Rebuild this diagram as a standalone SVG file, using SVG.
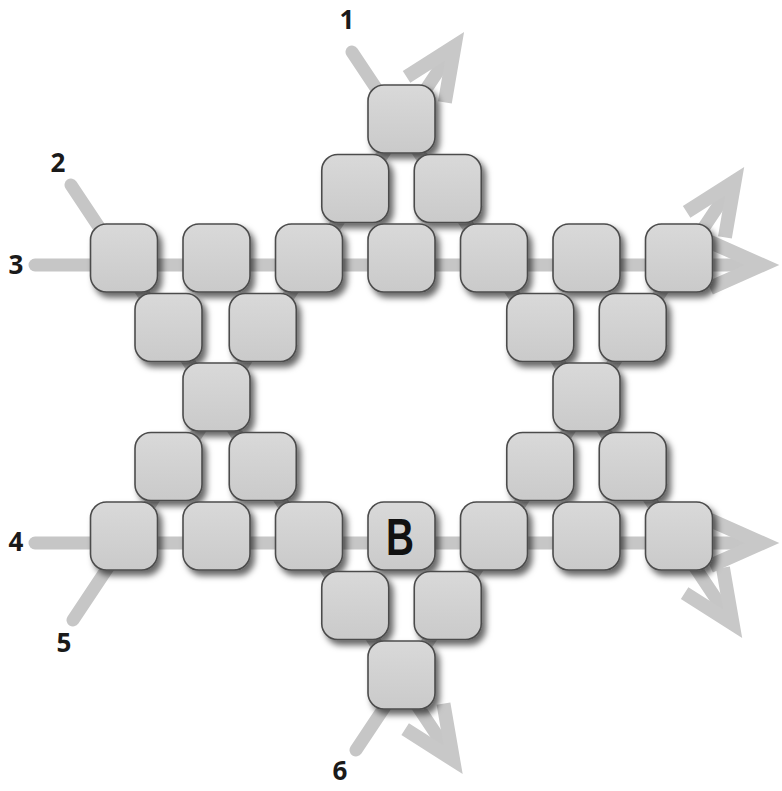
<svg xmlns="http://www.w3.org/2000/svg" width="782" height="791" viewBox="0 0 782 791">
<style>
.ln{fill:none;stroke:#c6c6c6;stroke-width:13;stroke-linecap:round;marker-end:url(#ah)}
.sq{fill:url(#g);stroke:#4c4c4c;stroke-width:1.6;filter:url(#sh)}
.lb{font-family:"Open Sans","Liberation Sans",sans-serif;font-weight:700;font-size:26px;fill:#1a1a1a;text-anchor:middle}
.big{font-family:"Liberation Sans",sans-serif;font-weight:700;font-size:52px;fill:#111;text-anchor:middle}
</style>
<defs>
<linearGradient id="g" x1="0" y1="0" x2="0" y2="1">
<stop offset="0" stop-color="#d9d9d9"/>
<stop offset="1" stop-color="#cacaca"/>
</linearGradient>
<filter id="sh" x="-30%" y="-30%" width="170%" height="170%">
<feDropShadow dx="4" dy="5" stdDeviation="3" flood-color="#000" flood-opacity="0.6"/>
</filter>
<marker id="ah" markerUnits="userSpaceOnUse" orient="auto" refX="0" refY="0" markerWidth="100" markerHeight="100" overflow="visible">
<path d="M-52,-23 L0,0 L-52,23" fill="none" stroke="#c8c8c8" stroke-width="14" stroke-linejoin="miter"/>
</marker>
</defs>
<rect width="782" height="791" fill="#fff"/>
<g id="connectors">
<path id="c1" class="ln" d="M352,52 L732.6,623.7"/>
<path id="c2" class="ln" d="M71,185 L453.1,759.7"/>
<path id="c3" class="ln" d="M35,265 L762,265"/>
<path id="c4" class="ln" d="M35,543 L762,543"/>
<path id="c5" class="ln" d="M73,620 L454.5,46.3"/>
<path id="c6" class="ln" d="M356,750 L734.6,181.3"/>
</g>
<g id="labels">
<text class="lb" x="347" y="29">1</text>
<text class="lb" x="58" y="172">2</text>
<text class="lb" x="16" y="274">3</text>
<text class="lb" x="16" y="551">4</text>
<text class="lb" x="64" y="652">5</text>
<text class="lb" x="340" y="780">6</text>
</g>
<g id="nodes">
<g id="r0a"><rect class="sq" x="368" y="85" width="67" height="68" rx="16"/></g>
<g id="r1a"><rect class="sq" x="321.75" y="154.5" width="67" height="68" rx="16"/></g>
<g id="r1b"><rect class="sq" x="414.25" y="154.5" width="67" height="68" rx="16"/></g>
<g id="r2a"><rect class="sq" x="90.5" y="224" width="67" height="68" rx="16"/></g>
<g id="r2b"><rect class="sq" x="183" y="224" width="67" height="68" rx="16"/></g>
<g id="r2c"><rect class="sq" x="275.5" y="224" width="67" height="68" rx="16"/></g>
<g id="r2d"><rect class="sq" x="368" y="224" width="67" height="68" rx="16"/></g>
<g id="r2e"><rect class="sq" x="460.5" y="224" width="67" height="68" rx="16"/></g>
<g id="r2f"><rect class="sq" x="553" y="224" width="67" height="68" rx="16"/></g>
<g id="r2g"><rect class="sq" x="645.5" y="224" width="67" height="68" rx="16"/></g>
<g id="r3a"><rect class="sq" x="135" y="293.5" width="67" height="68" rx="16"/></g>
<g id="r3b"><rect class="sq" x="229.25" y="293.5" width="67" height="68" rx="16"/></g>
<g id="r3c"><rect class="sq" x="506.75" y="293.5" width="67" height="68" rx="16"/></g>
<g id="r3d"><rect class="sq" x="599.25" y="293.5" width="67" height="68" rx="16"/></g>
<g id="r4a"><rect class="sq" x="183" y="363" width="67" height="68" rx="16"/></g>
<g id="r4b"><rect class="sq" x="553" y="363" width="67" height="68" rx="16"/></g>
<g id="r5a"><rect class="sq" x="135" y="432.5" width="67" height="68" rx="16"/></g>
<g id="r5b"><rect class="sq" x="229.25" y="432.5" width="67" height="68" rx="16"/></g>
<g id="r5c"><rect class="sq" x="506.75" y="432.5" width="67" height="68" rx="16"/></g>
<g id="r5d"><rect class="sq" x="599.25" y="432.5" width="67" height="68" rx="16"/></g>
<g id="r6a"><rect class="sq" x="90.5" y="502" width="67" height="68" rx="16"/></g>
<g id="r6b"><rect class="sq" x="183" y="502" width="67" height="68" rx="16"/></g>
<g id="r6c"><rect class="sq" x="275.5" y="502" width="67" height="68" rx="16"/></g>
<g id="r6d"><rect class="sq" x="368" y="502" width="67" height="68" rx="16"/><text class="big" x="400" y="555" textLength="28" lengthAdjust="spacingAndGlyphs">B</text></g>
<g id="r6e"><rect class="sq" x="460.5" y="502" width="67" height="68" rx="16"/></g>
<g id="r6f"><rect class="sq" x="553" y="502" width="67" height="68" rx="16"/></g>
<g id="r6g"><rect class="sq" x="645.5" y="502" width="67" height="68" rx="16"/></g>
<g id="r7a"><rect class="sq" x="321.75" y="571.5" width="67" height="68" rx="16"/></g>
<g id="r7b"><rect class="sq" x="414.25" y="571.5" width="67" height="68" rx="16"/></g>
<g id="r8a"><rect class="sq" x="368" y="641" width="67" height="68" rx="16"/></g>
</g>
</svg>
